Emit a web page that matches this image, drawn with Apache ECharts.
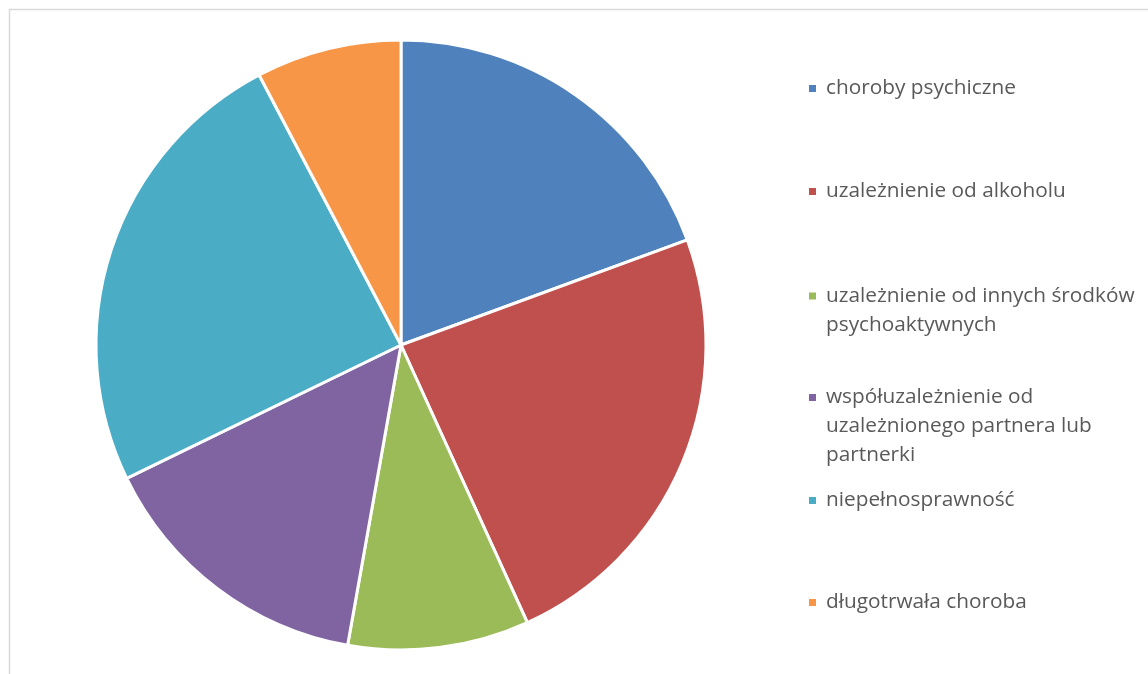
<!DOCTYPE html>
<html>
<head>
<meta charset="utf-8">
<script src="https://cdn.jsdelivr.net/npm/echarts@6/dist/echarts.min.js"></script>
<style>
html,body{margin:0;padding:0;background:#fff;}
#chart{width:1148px;height:674px;}
</style>
</head>
<body>
<div id="chart"></div>
<script>
const categories = [
  'choroby psychiczne',
  'uzależnienie od alkoholu',
  'uzależnienie od innych środków psychoaktywnych',
  'współuzależnienie od uzależnionego partnera lub partnerki',
  'niepełnosprawność',
  'długotrwała choroba'
];
const values = [19.4, 23.8, 9.6, 15.0, 24.5, 7.7];
const legendLabels = [
  'choroby psychiczne',
  'uzależnienie od alkoholu',
  'uzależnienie od innych środków\npsychoaktywnych',
  'współuzależnienie od\nuzależnionego partnera lub\npartnerki',
  'niepełnosprawność',
  'długotrwała choroba'
];
const colors = ['#4F81BD', '#C0504D', '#9BBB59', '#8064A2', '#4BACC6', '#F79646'];
const legendCenters = [88.5, 191.5, 296, 397.5, 500.5, 602.5];

const LH = 29;
const fontFamily = '"Open Sans", sans-serif';

const legends = categories.map((name, i) => {
  const n = legendLabels[i].split('\n').length;
  const H = (2 * n - 1) * LH;
  const label = '\n'.repeat(n - 1) + legendLabels[i];
  return {
    orient: 'vertical',
    left: 807,
    top: legendCenters[i] - H / 2,
    padding: 0,
    itemWidth: 9,
    itemHeight: 9,
    itemGap: 0,
    icon: 'rect',
    selectedMode: false,
    data: [name],
    formatter: () => label,
    textStyle: {
      fontFamily: fontFamily,
      fontSize: 20.8,
      color: '#595959',
      lineHeight: LH,
      padding: [0, 0, 0, 4]
    }
  };
});

const chart = echarts.init(document.getElementById('chart'));
chart.setOption({
  animation: false,
  color: colors,
  legend: legends,
  graphic: [{
    type: 'rect',
    shape: { x: 9.5, y: 9.5, width: 1200, height: 700 },
    style: { fill: 'none', stroke: '#D9D9D9', lineWidth: 1.5 },
    silent: true,
    z: -10
  }],
  series: [{
    type: 'pie',
    center: [401, 345],
    radius: 305,
    startAngle: 90,
    clockwise: true,
    label: { show: false },
    labelLine: { show: false },
    emphasis: { disabled: true },
    itemStyle: { borderColor: '#FFFFFF', borderWidth: 3 },
    data: categories.map((c, i) => ({ name: c, value: values[i] }))
  }]
});
</script>
</body>
</html>
